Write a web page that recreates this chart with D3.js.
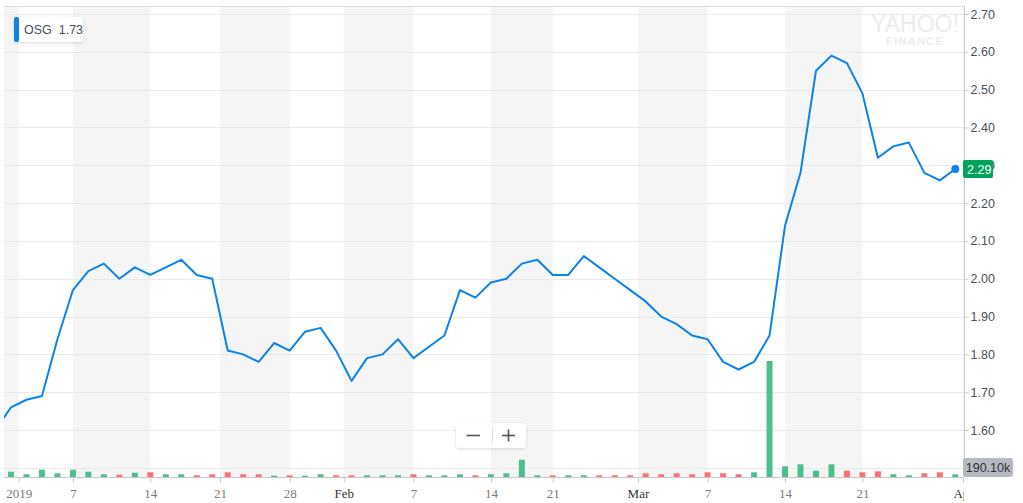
<!DOCTYPE html>
<html lang="en">
<head>
<meta charset="UTF-8">
<title>OSG</title>
<script src="https://d3js.org/d3.v7.min.js"></script>
<style>
    body { margin: 0; background: #fff; }
    svg { display: block; }
    .yax text { font-family: "Liberation Sans", Arial, sans-serif; font-size: 12.5px; fill: #4a4f55; }
    .xax text { font-family: "Liberation Serif", "Times New Roman", serif; font-size: 13px; fill: #7a7a7a; }
    .xax text.month { fill: #333; }
</style>
</head>
<body>
<div class="container"></div>
<script>
// trading days, Dec 28 2018 .. Mar 29 2019
const dates = ["2018-12-28","2018-12-31","2019-01-02","2019-01-03","2019-01-04","2019-01-07","2019-01-08","2019-01-09","2019-01-10","2019-01-11",
    "2019-01-14","2019-01-15","2019-01-16","2019-01-17","2019-01-18","2019-01-22","2019-01-23","2019-01-24","2019-01-25","2019-01-28",
    "2019-01-29","2019-01-30","2019-01-31","2019-02-01","2019-02-04","2019-02-05","2019-02-06","2019-02-07","2019-02-08","2019-02-11",
    "2019-02-12","2019-02-13","2019-02-14","2019-02-15","2019-02-19","2019-02-20","2019-02-21","2019-02-22","2019-02-25","2019-02-26",
    "2019-02-27","2019-02-28","2019-03-01","2019-03-04","2019-03-05","2019-03-06","2019-03-07","2019-03-08","2019-03-11","2019-03-12",
    "2019-03-13","2019-03-14","2019-03-15","2019-03-18","2019-03-19","2019-03-20","2019-03-21","2019-03-22","2019-03-25","2019-03-26",
    "2019-03-27","2019-03-28","2019-03-29"];

// closing price
const close = [1.60, 1.66, 1.68, 1.69, 1.84, 1.97, 2.02, 2.04, 2.00, 2.03,
    2.01, 2.03, 2.05, 2.01, 2.00, 1.81, 1.80, 1.78, 1.83, 1.81,
    1.86, 1.87, 1.81, 1.73, 1.79, 1.80, 1.84, 1.79, 1.82, 1.85,
    1.97, 1.95, 1.99, 2.00, 2.04, 2.05, 2.01, 2.01, 2.06, 2.03,
    2.00, 1.97, 1.94, 1.90, 1.88, 1.85, 1.84, 1.78, 1.76, 1.78,
    1.85, 2.14, 2.28, 2.55, 2.59, 2.57, 2.49, 2.32, 2.35, 2.36,
    2.28, 2.26, 2.29];

// volume, thousands
const volume = [300, 373, 190, 514, 260, 514, 373, 190, 162, 303,
    331, 190, 190, 120, 190, 331, 190, 190, 92, 120,
    92, 190, 120, 120, 120, 120, 120, 190, 120, 120,
    190, 120, 190, 260, 1218, 120, 120, 120, 120, 120,
    120, 120, 260, 190, 260, 190, 331, 260, 190, 331,
    8166, 753, 894, 444, 894, 444, 331, 401, 190, 120,
    260, 331, 190.1];

const tickDates = ["2019-01-01","2019-01-07","2019-01-14","2019-01-21","2019-01-28","2019-02-01","2019-02-07",
    "2019-02-14","2019-02-21","2019-03-01","2019-03-07","2019-03-14","2019-03-21","2019-04-01"];
const tickLabels = ["2019","7","14","21","28","Feb","7","14","21","Mar","7","14","21","Apr"];

const priceTicks = [1.50, 1.60, 1.70, 1.80, 1.90, 2.00, 2.10, 2.20, 2.30, 2.40, 2.50, 2.60, 2.70];

const W = 1023, H = 503;
const pL = 4, pR = 964, pT = 6, pB = 477;

const svg = d3.select(".container").append("svg")
    .attr("width", W).attr("height", H);

const x = d3.scaleLinear().domain([0, dates.length - 1]).range([-4.5, 955.3]);
const y = d3.scaleLinear().domain([1.60, 2.70]).range([430, 14]);
const yVol = d3.scaleLinear().domain([0, d3.max(volume)]).range([pB, 361]);

// tick positions: month starts and holidays sit half a step before next session
const tickPos = tickDates.map((t, k) => {
    let i = dates.findIndex(d => d >= t);
    if (i === -1) i = dates.length;
    const boundary = isNaN(+tickLabels[k]) || dates[i] !== t;
    return boundary ? i - 0.5 : i;
});

const defs = svg.append("defs");
defs.append("clipPath").attr("id", "plot")
    .append("rect").attr("x", pL).attr("y", pT).attr("width", pR - pL).attr("height", pB - pT);
defs.append("clipPath").attr("id", "xlab")
    .append("rect").attr("x", 0).attr("y", 0).attr("width", pR).attr("height", 40);
const sh = defs.append("filter").attr("id", "shadow").attr("x", "-20%").attr("y", "-30%").attr("width", "140%").attr("height", "160%");
sh.append("feDropShadow").attr("dx", 0).attr("dy", 1).attr("stdDeviation", 1.5)
    .attr("flood-color", "#000").attr("flood-opacity", 0.15);

// alternating bands between ticks
const edges = [pL, ...tickPos.map(x), pR];
svg.append("g").attr("clip-path", "url(#plot)")
    .selectAll("rect")
    .data(d3.range(edges.length - 1).filter(i => i % 2 === 0))
    .join("rect")
    .attr("x", i => edges[i])
    .attr("width", i => Math.max(0, Math.min(edges[i + 1], pR) - edges[i]))
    .attr("y", pT).attr("height", pB - pT)
    .attr("fill", "#f5f5f5");

// grid
svg.append("g").selectAll("line")
    .data(priceTicks)
    .join("line")
    .attr("x1", pL).attr("x2", pR)
    .attr("y1", d => Math.round(y(d)) + 0.5).attr("y2", d => Math.round(y(d)) + 0.5)
    .attr("stroke", "#e9e9e9");

svg.append("line").attr("x1", pL).attr("x2", pR).attr("y1", pT + 0.5).attr("y2", pT + 0.5)
    .attr("stroke", "#dfdfe3");

// watermark
svg.append("text").attr("x", 915).attr("y", 32).attr("text-anchor", "middle")
    .attr("font-family", "Liberation Sans, Arial, sans-serif").attr("font-size", 23)
    .attr("fill", "#ececec").text("YAHOO!");
svg.append("text").attr("x", 915).attr("y", 45).attr("text-anchor", "middle")
    .attr("font-family", "Liberation Sans, Arial, sans-serif").attr("font-size", 11.5).attr("font-weight", "bold")
    .attr("letter-spacing", 1).attr("fill", "#ececec").text("FINANCE");

// volume bars
svg.append("g").attr("clip-path", "url(#plot)")
    .selectAll("rect")
    .data(volume)
    .join("rect")
    .attr("x", (d, i) => x(i) - 3)
    .attr("width", 6)
    .attr("y", d => yVol(d))
    .attr("height", d => pB - yVol(d))
    .attr("fill", (d, i) => (i === 0 || close[i] >= close[i - 1]) ? "#4dbf8d" : "#ff7075");

// price line
const line = d3.line().x((d, i) => x(i)).y(d => y(d));
svg.append("path").attr("clip-path", "url(#plot)")
    .datum(close)
    .attr("d", line)
    .attr("fill", "none")
    .attr("stroke", "#0a84ea")
    .attr("stroke-width", 2)
    .attr("stroke-linejoin", "round");

const last = close.length - 1;
svg.append("circle").attr("cx", x(last)).attr("cy", y(close[last])).attr("r", 4).attr("fill", "#0a84ea");

// right axis
const yAxis = svg.append("g").attr("class", "yax")
    .attr("transform", `translate(${pR + 0.5},0)`)
    .call(d3.axisRight(y).tickValues(priceTicks.filter(d => d >= 1.6)).tickSize(4).tickPadding(2).tickFormat(d3.format(".2f")));
yAxis.select(".domain").remove();
yAxis.selectAll("line").attr("stroke", "#c8c8c8");
svg.append("line").attr("x1", pR + 0.5).attr("x2", pR + 0.5).attr("y1", pT).attr("y2", pB)
    .attr("stroke", "#c8c8c8");

// bottom axis
const xAxis = svg.append("g").attr("class", "xax")
    .attr("transform", `translate(0,${pB + 0.5})`)
    .attr("clip-path", "url(#xlab)")
    .call(d3.axisBottom(x).tickValues(tickPos).tickSize(5).tickPadding(6)
        .tickFormat((d, i) => tickLabels[i]));
xAxis.select(".domain").remove();
xAxis.selectAll("line").attr("stroke", "#c8c8c8");
xAxis.selectAll("text").classed("month", (d, i) => isNaN(+tickLabels[i]));
svg.append("line").attr("x1", pL).attr("x2", pR).attr("y1", pB + 0.5).attr("y2", pB + 0.5)
    .attr("stroke", "#c8c8c8");

// last price tag
const lp = svg.append("g").attr("transform", `translate(${pR - 1},${y(close[last]) - 9})`);
lp.append("rect").attr("width", 30).attr("height", 18).attr("rx", 2).attr("fill", "#00a35c");
lp.append("text").attr("x", 4).attr("y", 13.5)
    .attr("font-family", "Liberation Sans, Arial, sans-serif").attr("font-size", 12.5)
    .attr("fill", "#fff").text(d3.format(".2f")(close[last]));

// last volume tag
const lv = svg.append("g").attr("transform", `translate(${pR - 1},458)`);
lv.append("rect").attr("width", 50).attr("height", 19).attr("rx", 3).attr("fill", "#b5b9c1");
lv.append("text").attr("x", 25).attr("y", 14).attr("text-anchor", "middle")
    .attr("font-family", "Liberation Sans, Arial, sans-serif").attr("font-size", 12.5)
    .attr("fill", "#333").text(d3.format(".2f")(volume[last]) + "k");

// legend
const lg = svg.append("g").attr("transform", "translate(14,17)");
lg.append("rect").attr("width", 69).attr("height", 25).attr("rx", 3).attr("fill", "#fff").attr("filter", "url(#shadow)");
lg.append("rect").attr("width", 5).attr("height", 25).attr("rx", 2).attr("fill", "#0a84ea");
lg.append("text").attr("x", 10).attr("y", 17)
    .attr("font-family", "Liberation Sans, Arial, sans-serif").attr("font-size", 12.5)
    .attr("fill", "#464e56").attr("xml:space", "preserve").text("OSG  1.73");

// zoom control
const zc = svg.append("g").attr("transform", "translate(456,423)");
zc.append("rect").attr("width", 70).attr("height", 25).attr("rx", 4).attr("fill", "#fff").attr("filter", "url(#shadow)");
zc.append("line").attr("x1", 36.5).attr("x2", 36.5).attr("y1", 4).attr("y2", 20).attr("stroke", "#ddd");
zc.append("line").attr("x1", 10.5).attr("x2", 24).attr("y1", 12.5).attr("y2", 12.5).attr("stroke", "#555").attr("stroke-width", 1.6);
zc.append("line").attr("x1", 46).attr("x2", 59).attr("y1", 12.5).attr("y2", 12.5).attr("stroke", "#555").attr("stroke-width", 1.6);
zc.append("line").attr("x1", 52.5).attr("x2", 52.5).attr("y1", 6.5).attr("y2", 18.5).attr("stroke", "#555").attr("stroke-width", 1.6);
</script>
</body>
</html>
